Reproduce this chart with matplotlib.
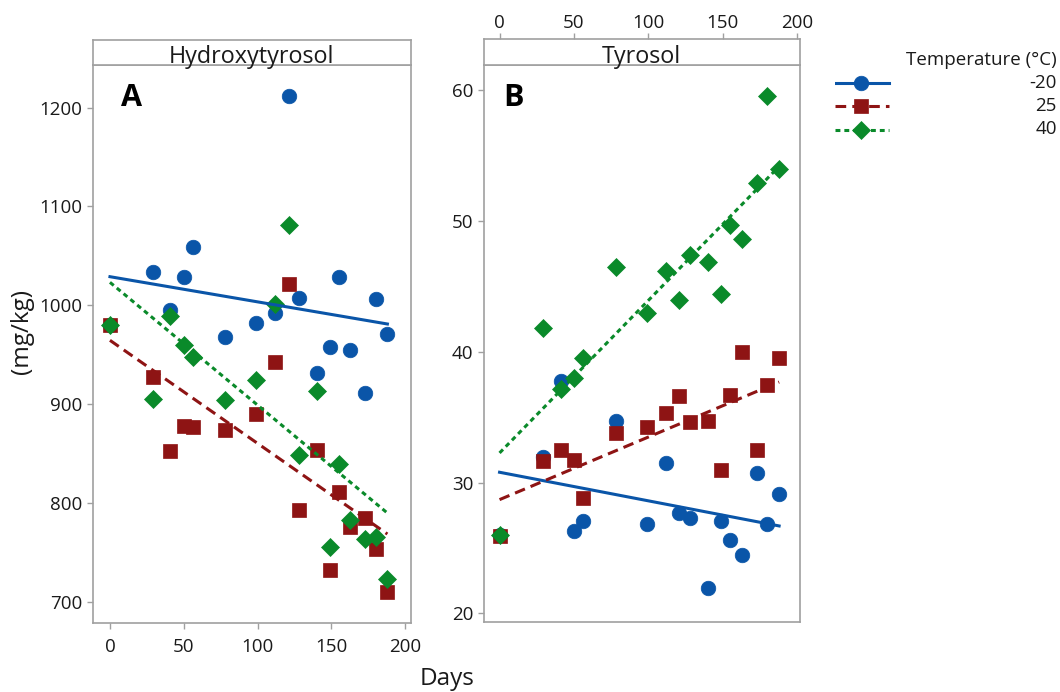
import numpy as np
import matplotlib
matplotlib.use("Agg")
import matplotlib.pyplot as plt

plt.rcParams["font.family"] = ["Open Sans", "DejaVu Sans"]

days = np.array([0, 29, 41, 50, 56, 78, 99, 112, 121, 128, 140, 149, 155, 163, 173, 180, 188])
temps = ["-20", "25", "40"]

# Hydroxytyrosol (mg/kg)
hyd_m20 = [980, 1034, 995, 1029, 1059, 968, 982, 992, 1212, 1007, 932, 958, 1029, 955, 911, 1006, 971]
hyd_25 = [980, 928, 853, 878, 877, 874, 890, 943, 1022, 793, 854, 733, 811, 776, 785, 754, 710]
hyd_40 = [980, 905, 989, 960, 948, 904, 925, 1001, 1081, 849, 913, 756, 840, 783, 764, 766, 723]

# Tyrosol (mg/kg)
tyr_m20 = [26.0, 31.95, 37.8, 26.3, 27.1, 34.7, 26.8, 31.5, 27.7, 27.3, 21.9, 27.05, 25.6, 24.5, 30.7, 26.8, 29.1]
tyr_25 = [25.9, 31.65, 32.5, 31.7, 28.8, 33.8, 34.25, 35.3, 36.6, 34.6, 34.7, 31.0, 36.7, 40.0, 32.5, 37.5, 39.5]
tyr_40 = [26.0, 41.85, 37.2, 38.0, 39.5, 46.5, 43.0, 46.2, 44.0, 47.4, 46.9, 44.4, 49.7, 48.6, 52.9, 59.6, 54.0]

colors = ["#0a55a8", "#8e1414", "#0a8a2a"]
markers = ["o", "s", "D"]
msizes = [10.5, 10, 9]
dashes = [None, (3.5, 2), (1.6, 1.3)]
frame_col = "#a0a0a0"
text_col = "#1a1a1a"

W, H = 1060, 692
fig = plt.figure(figsize=(W / 100, H / 100), dpi=100)


def fpos(x0, y0, x1, y1):
    return [x0 / W, 1 - y1 / H, (x1 - x0) / W, (y1 - y0) / H]


def style_frame(ax):
    for s in ax.spines.values():
        s.set_color(frame_col)
        s.set_linewidth(1.2)
    ax.tick_params(color=frame_col, labelcolor=text_col, labelsize=13.5, length=4, width=1)


def draw_panel(ax, series):
    for vals, c, m, ms in zip(series, colors, markers, msizes):
        ax.plot(days, vals, ls="none", marker=m, ms=ms, color=c, mec=c, mew=0.5, zorder=3)
    for vals, c, d in zip(series, colors, dashes):
        k, b = np.polyfit(days, vals, 1)
        xs = np.array([days.min(), days.max()])
        ln, = ax.plot(xs, k * xs + b, color=c, lw=2.2, zorder=4)
        if d:
            ln.set_dashes(d)


def add_strip(pos, title, ax_main):
    st = fig.add_axes(pos, sharex=ax_main)
    style_frame(st)
    st.set_yticks([])
    st.text(0.5, 0.08, title, transform=st.transAxes, ha="center", va="baseline",
            fontsize=16.8, color=text_col)
    return st


# panel A
axA = fig.add_axes(fpos(93, 65, 411, 623))
draw_panel(axA, [hyd_m20, hyd_25, hyd_40])
axA.set_xlim(-11.5, 204)
axA.set_ylim(679, 1243)
axA.set_xticks([0, 50, 100, 150, 200])
axA.set_yticks([700, 800, 900, 1000, 1100, 1200])
style_frame(axA)
axA.tick_params(axis="x", pad=7)
stA = add_strip(fpos(93, 39.5, 411, 65), "Hydroxytyrosol", axA)
stA.tick_params(axis="x", bottom=False, labelbottom=False)
axA.text(0.12, 0.94, "A", transform=axA.transAxes, ha="center", va="center",
         fontsize=22, fontweight="bold")

# panel B
axB = fig.add_axes(fpos(483.5, 65, 799.5, 621.7))
draw_panel(axB, [tyr_m20, tyr_25, tyr_40])
axB.set_xlim(-10.8, 201.7)
axB.set_ylim(19.36, 61.95)
axB.set_yticks([20, 30, 40, 50, 60])
style_frame(axB)
axB.tick_params(axis="x", bottom=False, labelbottom=False)
stB = add_strip(fpos(483.5, 39, 799.5, 65), "Tyrosol", axB)
stB.set_xticks([0, 50, 100, 150, 200])
stB.tick_params(axis="x", bottom=False, labelbottom=False, top=True, labeltop=True, pad=1)
axB.text(0.095, 0.94, "B", transform=axB.transAxes, ha="center", va="center",
         fontsize=22, fontweight="bold")

fig.text(22 / W, 1 - 332 / H, "(mg/kg)", rotation=90, ha="center", va="center",
         fontsize=17.5, color=text_col)
fig.text(447 / W, 1 - 679 / H, "Days", ha="center", va="center", fontsize=17.5, color=text_col)

# legend
axL = fig.add_axes(fpos(835, 45, 1060, 140))
axL.set_xlim(835, 1060)
axL.set_ylim(140, 45)
axL.axis("off")
axL.text(1057, 60, "Temperature (°C)", ha="right", va="center", fontsize=13.5, color=text_col)
for i, (t, c, m, ms, d) in enumerate(zip(temps, colors, markers, msizes, dashes)):
    y = 82.5 + i * 23.5
    ln, = axL.plot([835, 861, 889], [y, y, y], color=c, lw=2.2, marker=m, ms=ms,
                   markevery=[1], mew=0.5, mec=c)
    if d:
        ln.set_dashes(d)
    axL.text(1057, y, t, ha="right", va="center", fontsize=13.5, color=text_col)

fig.savefig("out.png", dpi=100)
